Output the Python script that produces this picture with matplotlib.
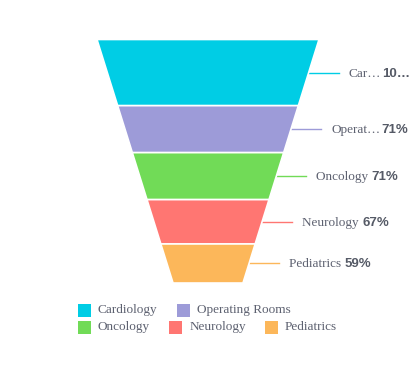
import matplotlib
matplotlib.use("Agg")
import matplotlib.pyplot as plt
from matplotlib.patches import Polygon, Rectangle

categories = ["Cardiology", "Operating Rooms", "Oncology", "Neurology", "Pediatrics"]
values = [100, 71, 71, 67, 59]
name_labels = ["Car\u2026", "Operat\u2026", "Oncology ", "Neurology ", "Pediatrics "]
value_labels = ["10\u2026", "71%", "71%", "67%", "59%"]
colors = ["#00CDE5", "#9D9BD8", "#71DB57", "#FF7672", "#FCB75A"]
legend_rows = [[0, 1], [2, 3, 4]]

W, H = 416, 377
fig = plt.figure(figsize=(W / 100, H / 100), dpi=100)
fig.patch.set_facecolor("white")

def fx(x):
    return x / W

def fy(y):
    return 1 - y / H

# funnel axes
left, right, top, bottom = 97, 319, 39.5, 283
ax = fig.add_axes([fx(left), fy(bottom), fx(right) - fx(left), fy(top) - fy(bottom)])
ax.set_axis_off()
total = sum(values)
ax.set_xlim(-1, 1)
ax.set_ylim(total, 0)
ratio = 0.315  # bottom width / top width

def hw(v):
    return 1 - (1 - ratio) * v / total

px_per_x = (right - left) / 2.0
text_color = "#5d6170"
serif = ["Liberation Serif", "DejaVu Serif"]
sans = ["Liberation Sans", "DejaVu Sans"]
fs = 9.5

cum = 0
name_texts = []
for i, v in enumerate(values):
    y0, y1 = cum, cum + v
    poly = Polygon([(-hw(y0), y0), (hw(y0), y0), (hw(y1), y1), (-hw(y1), y1)],
                   closed=True, facecolor=colors[i], edgecolor="white", lw=1.2, zorder=3)
    ax.add_patch(poly)
    ym = (y0 + y1) / 2
    xe = hw(ym)
    x_start = xe - 3 / px_per_x
    x_end = xe + 30 / px_per_x
    ax.plot([x_start, x_end], [ym, ym], color=colors[i], lw=1.0, zorder=2, clip_on=False)
    t = ax.text(x_end + 10 / px_per_x, ym + 1.5, name_labels[i], family=serif, fontsize=fs,
                color=text_color, va="center", ha="left", clip_on=False)
    name_texts.append((t, ym + 1.5, i))
    cum = y1

fig.canvas.draw()
renderer = fig.canvas.get_renderer()
for t, ym, i in name_texts:
    bb = t.get_window_extent(renderer)
    x_disp = bb.x1 + (1 if name_labels[i].endswith("\u2026") else 0)
    xd = ax.transData.inverted().transform((x_disp, 0))[0]
    ax.text(xd, ym, value_labels[i], family=sans, fontsize=fs, fontweight="bold",
            color="#555a66", va="center", ha="left", clip_on=False)

# legend (flow layout)
row_y = [310, 327]
sq = 13
for r, row in enumerate(legend_rows):
    x = 78
    for i in row:
        yc = row_y[r]
        fig.patches.append(Rectangle((fx(x), fy(yc + sq / 2)), sq / W, sq / H,
                                     transform=fig.transFigure, facecolor=colors[i],
                                     edgecolor="none"))
        t = fig.text(fx(x + sq + 7), fy(yc), categories[i], family=serif, fontsize=fs,
                     color=text_color, va="center", ha="left")
        fig.canvas.draw()
        bb = t.get_window_extent(renderer)
        x = bb.x1 + 19

fig.savefig("out.png", dpi=100)
